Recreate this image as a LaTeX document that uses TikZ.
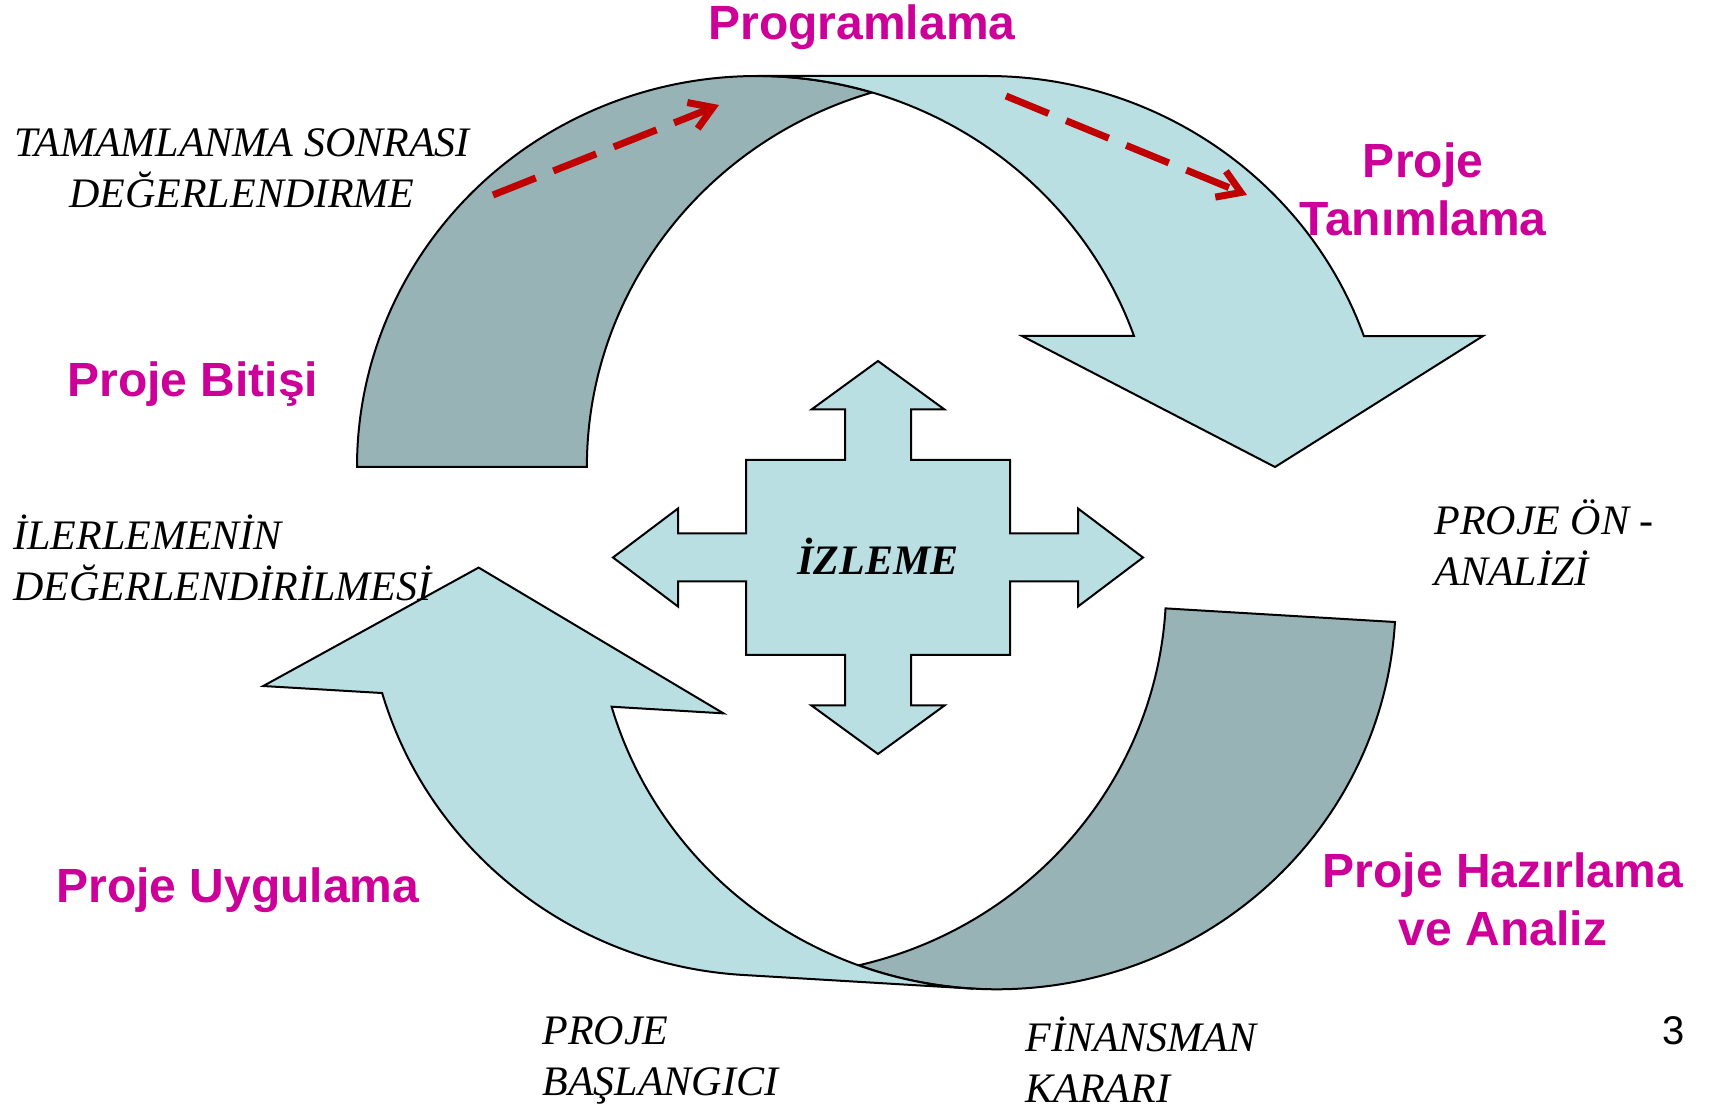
\documentclass[tikz,border=0pt]{standalone}
\usepackage{fontspec}
\setmainfont{Liberation Serif}
\setsansfont{Liberation Sans}
\definecolor{lightteal}{RGB}{185,223,227}
\definecolor{grayteal}{RGB}{151,179,181}
\definecolor{phasepink}{RGB}{204,0,153}
\definecolor{flowred}{RGB}{192,0,0}
\usetikzlibrary{arrows.meta}
\tikzstyle{band}=[draw=black, line width=1pt, fill=lightteal]
\tikzstyle{backband}=[band, fill=grayteal]
\tikzstyle{phase}=[text=phasepink, font=\sffamily\bfseries\fontsize{24}{29}\selectfont,
  align=center, inner sep=0pt]
\tikzstyle{milestone}=[font=\itshape\fontsize{21}{25.5}\selectfont, inner sep=0pt]
\tikzstyle{flow}=[flowred, line width=3.5pt, dash pattern=on 23pt off 9.5pt,
  -{Straight Barb[length=11pt, width=14pt]}]

% one curved arrow: dark back part and light front part with its head
\newcommand{\cyclearrow}{%
  \draw[backband] (-400,0) arc[start angle=180, end angle=73.3, x radius=400, y radius=391]
    arc[start angle=106.7, end angle=180, x radius=400, y radius=391] -- cycle;
  \draw[band] (0,391) -- (230,391)
    arc[start angle=90, end angle=19.57, x radius=400, y radius=391]
    -- (726,131) -- (518,0) -- (265,131) -- (377,131)
    arc[start angle=19.57, end angle=90, x radius=400, y radius=391] -- cycle;
}

\begin{document}
\begin{tikzpicture}[x=0.5pt, y=0.5pt]
  \useasboundingbox (0,0) rectangle (1710,1105);

  \begin{scope}[shift={(757,638)}]
    \cyclearrow
  \end{scope}
  \begin{scope}[shift={(995.7,506.7)}, rotate=176.6]
    \cyclearrow
  \end{scope}

  % monitoring cross
  \draw[band] (878,744) -- (944.5,695.5) -- (911,695.5) -- (911,645) -- (1010,645)
    -- (1010,571.5) -- (1078,571.5) -- (1078,596.5) -- (1143,547.5) -- (1078,498.5)
    -- (1078,523.5) -- (1010,523.5) -- (1010,450) -- (911,450) -- (911,399.5)
    -- (944.5,399.5) -- (878,351) -- (811.5,399.5) -- (845,399.5) -- (845,450)
    -- (746,450) -- (746,523.5) -- (678,523.5) -- (678,498.5) -- (613,547.5)
    -- (678,596.5) -- (678,571.5) -- (746,571.5) -- (746,645) -- (845,645)
    -- (845,695.5) -- (811.5,695.5) -- cycle;
  \node[font=\bfseries\itshape\fontsize{21}{25}\selectfont, inner sep=0pt] (watch)
    at (878,549) {İZLEME};

  % phases
  \node[phase] (programlama) at (862,1078) {Programlama};
  \node[phase] (tanimlama) at (1423,916) {Proje\\Tanımlama};
  \node[phase] (bitis) at (193,721) {Proje Bitişi};
  \node[phase] (uygulama) at (238,215) {Proje Uygulama};
  \node[phase] (hazirlama) at (1503,206) {Proje Hazırlama\\ve Analiz};

  % milestones
  \node[milestone, align=center] (sonrasi) at (242,937)
    {TAMAMLANMA SONRASI\\DEĞERLENDIRME};
  \node[milestone, align=left, anchor=west] (ilerleme) at (13,547)
    {İLERLEMENİN\\DEĞERLENDİRİLMESİ};
  \node[milestone, align=left, anchor=west] (onanaliz) at (1434,562)
    {PROJE ÖN -\\ANALİZİ};
  \node[milestone, align=left, anchor=west] (baslangic) at (542,45)
    {PROJE\\BAŞLANGICI};
  \node[milestone, align=left, anchor=west] (finansman) at (1025,45)
    {FİNANSMAN\\KARARI};

  \node[font=\sffamily\fontsize{20}{24}\selectfont, inner sep=0pt] (pagenum)
    at (1674,74) {3};

  % direction marks
  \coordinate (f1s) at (493,910);
  \coordinate (f1e) at (719,1000);
  \coordinate (f2s) at (1006,1009);
  \coordinate (f2e) at (1247,910);
  \draw[flow] (f1s) -- (f1e);
  \draw[flow] (f2s) -- (f2e);
\end{tikzpicture}
\end{document}
